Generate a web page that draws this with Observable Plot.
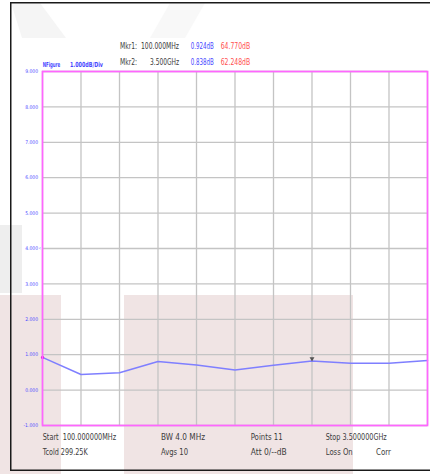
<!DOCTYPE html>
<html>
<head>
<meta charset="utf-8">
<script src="https://cdn.jsdelivr.net/npm/d3@7"></script>
<script src="https://cdn.jsdelivr.net/npm/@observablehq/plot@0.6"></script>
<style>
  html, body { margin: 0; padding: 0; background: #ffffff; }
  #wrap { position: relative; width: 430px; height: 474px; overflow: hidden; }
  #bg { position: absolute; left: 0; top: 0; }
  #chart { position: absolute; left: 0; top: 0; }
</style>
</head>
<body>
<div id="wrap"><svg id="bg" width="430" height="474"></svg><div id="chart"></div></div>
<script>
// ---- data ----
const freqMHz = [100, 440, 780, 1120, 1460, 1800, 2140, 2480, 2820, 3160, 3500];
const nfDb = [0.924, 0.44, 0.49, 0.81, 0.71, 0.57, 0.70, 0.82, 0.76, 0.76, 0.838];
const yTicks = [-1, 0, 1, 2, 3, 4, 5, 6, 7, 8, 9];
const yTickLabels = ["-1.000", "0.000", "1.000", "2.000", "3.000", "4.000", "5.000", "6.000", "7.000", "8.000", "9.000"];
const markerFreq = [100, 3500];
const markerNf = [0.924, 0.838];
const markerTop = [1.33, 1.2];
const activeMarkerFreq = [2480];
const activeMarkerNf = [0.885];

const headerLines = [
  {label: "Mkr1:", freq: "100.000MHz", nf: "0.924dB", gain: "64.770dB"},
  {label: "Mkr2:", freq: "3.500GHz", nf: "0.838dB", gain: "62.248dB"}
];
const footerRow1 = ["Start  100.000000MHz", "BW 4.0 MHz", "Points 11", "Stop 3.500000GHz"];
const footerRow2 = ["Tcold 299.25K", "Avgs 10", "Att 0/--dB", "Loss On", "Corr"];

const FONT = "'Liberation Sans Narrow', 'DejaVu Sans Condensed', 'Arial Narrow', sans-serif";

// ---- decorative background (watermark) ----
const bg = d3.select("#bg");
bg.append("polygon").attr("points", "11,3 40,3 66,38 22,38").attr("fill", "#f5f5f5");
bg.append("polygon").attr("points", "170,3 205,3 185,38 150,38").attr("fill", "#f8f8f8");
bg.append("rect").attr("x", 0).attr("y", 225).attr("width", 22).attr("height", 68).attr("fill", "#eeeeee");
bg.append("rect").attr("x", 0).attr("y", 295).attr("width", 61).attr("height", 179).attr("fill", "#f0e4e4");
bg.append("rect").attr("x", 124).attr("y", 295).attr("width", 229).attr("height", 179).attr("fill", "#f0e4e4");
bg.append("rect").attr("x", 10.75).attr("y", 2.75).attr("width", 430).attr("height", 467.5)
  .attr("fill", "none").attr("stroke", "#1a1a1a").attr("stroke-width", 1.5);

// ---- chart ----
const trace = freqMHz.map((f, i) => ({f, v: nfDb[i]}));
const markers = markerFreq.map((f, i) => ({f, v: markerNf[i], top: markerTop[i]}));
const active = activeMarkerFreq.map((f, i) => ({f, v: activeMarkerNf[i]}));

const chart = Plot.plot({
  width: 430,
  height: 474,
  marginLeft: 42,
  marginRight: 3,
  marginTop: 71,
  marginBottom: 49,
  style: {background: "transparent", overflow: "visible", fontFamily: FONT},
  x: {domain: [100, 3500], axis: null},
  y: {domain: [-1, 9], axis: null},
  marks: [
    Plot.gridX(freqMHz, {stroke: "#c4c4c4", strokeOpacity: 1, strokeWidth: 1.3}),
    Plot.gridY(yTicks, {stroke: "#c4c4c4", strokeOpacity: 1, strokeWidth: 1.3}),
    Plot.axisY(yTicks, {
      tickSize: 0, tickPadding: 4.5, fontSize: 5, fill: "#4d4dff", label: null,
      tickFormat: (d) => yTickLabels[yTicks.indexOf(d)]
    }),
    Plot.text([4], {y: (d) => d, frameAnchor: "left", dx: -1.5, text: () => "‹", fill: "#4d4dff", fontSize: 6, textAnchor: "end"}),
    Plot.ruleX(markers, {x: "f", y1: "v", y2: "top", stroke: "#6a6aff", strokeWidth: 1}),
    Plot.line(trace, {x: "f", y: "v", stroke: "#7f7fff", strokeWidth: 1.5}),
    Plot.dot(markers.slice(0, 1), {x: "f", y: "v", r: 1.6, fill: "#e000e0", stroke: null}),
    Plot.dot(active, {x: "f", y: "v", symbol: "triangle", rotate: 180, r: 1.8, fill: "#555555", stroke: null}),
    Plot.frame({stroke: "#ff66ff", strokeWidth: 1.7})
  ]
});
document.getElementById("chart").appendChild(chart);

// ---- header and footer text ----
const svg = d3.select(chart);
function addText(x, y, str, fill, size, len, weight) {
  const t = svg.append("text")
    .attr("x", x).attr("y", y)
    .attr("text-anchor", "start")
    .attr("dominant-baseline", "middle")
    .attr("font-family", FONT)
    .attr("font-size", size)
    .attr("fill", fill)
    .text(str);
  if (weight) t.attr("font-weight", weight);
  if (len) t.attr("textLength", len).attr("lengthAdjust", "spacingAndGlyphs");
  return t;
}
const dark = "#3c3c3c", blue = "#4646ff", red = "#ff5050";
const hdrY = [46.7, 62];
headerLines.forEach((h, i) => {
  addText(120, hdrY[i], h.label, dark, 9.5, 17);
  const fw = i === 0 ? 38 : 29;
  addText(179 - fw, hdrY[i], h.freq, dark, 9.5, fw);
  addText(190.7, hdrY[i], h.nf, blue, 9.5, 23);
  addText(220.7, hdrY[i], h.gain, red, 9.5, 29.5);
});
addText(42.7, 65.5, "NFigure", blue, 7, 17.5, "bold");
addText(70, 65.5, "1.000dB/Div", blue, 7, 33, "bold");

const fX = [42.7, 161, 250.7, 325.7, 376];
const f1Len = [73.5, 44, 32, 61];
const f2Len = [45, 27, 36, 27, 15];
footerRow1.forEach((s, i) => addText(fX[i], 437, s, dark, 9.5, f1Len[i]));
footerRow2.forEach((s, i) => addText(fX[i], 452.5, s, dark, 9.5, f2Len[i]));
</script>
</body>
</html>
